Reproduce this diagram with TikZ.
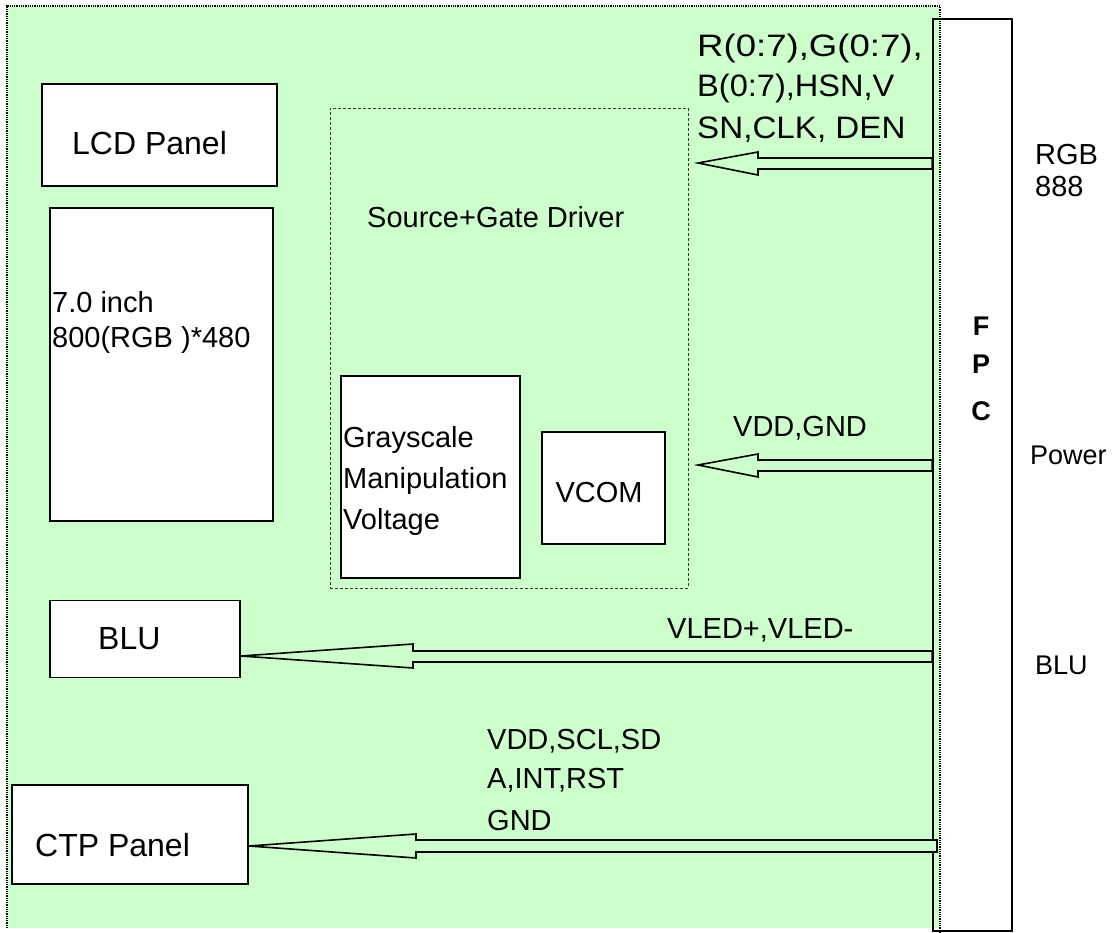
\documentclass[tikz,border=0pt]{standalone}
\usepackage{fontspec}
\setmainfont{Liberation Sans}
\definecolor{bggreen}{HTML}{CCFFCC}
\begin{document}
\begin{tikzpicture}[x=1pt,y=-1pt,
  box/.style={draw=black,line width=1.5pt,fill=white,inner sep=0pt},
  txt/.style={anchor=west,inner sep=0pt,font=\fontsize{29}{32}\selectfont},
  rgbtxt/.style={anchor=west,inner sep=0pt,font=\fontsize{31}{34}\selectfont},
  bigtxt/.style={anchor=west,inner sep=0pt,font=\fontsize{32}{36}\selectfont},
  arr/.style={draw=black,line width=1.6pt,fill=bggreen,line join=miter}]
\useasboundingbox (0,0) rectangle (1116,933);
% green board
\fill[bggreen] (7,6) rectangle (940,928);
% FPC
\node[draw=black,line width=1.8pt,inner sep=0pt,minimum width=79pt,minimum height=912pt] (fpc) at (972.5,475) {};
\draw[black,line width=1.5pt,dash pattern=on 1pt off 0.8pt] (7,928) -- (7,6) -- (940,6) -- (940,933);
% driver region
\node[draw=black!80,line width=0.8pt,dash pattern=on 3pt off 2pt,inner sep=0pt,minimum width=358pt,minimum height=480pt] (drv) at (509,348) {};
\node[txt] (drvt) at (367,217) {Source+Gate Driver};
% boxes
\node[box,minimum width=235pt,minimum height=102pt] (lcd) at (159.5,135) {};
\node[bigtxt] (lcdt) at (72,143) {LCD Panel};
\node[box,minimum width=223pt,minimum height=313pt] (panel) at (161.5,364.5) {};
\node[txt] (p1) at (52,302) {7.0 inch};
\node[txt] (p2) at (52,340) {800(RGB )*480};
\node[box,minimum width=179pt,minimum height=202pt] (gray) at (430.5,477) {};
\node[txt] (g1) at (343,440) {Grayscale};
\node[txt] (g2) at (343,481) {Manipulation};
\node[txt] (g3) at (343,522) {Voltage};
\node[box,minimum width=123pt,minimum height=112pt] (vcom) at (603.5,488) {};
\node[txt,anchor=center] (vcomt) at (599,493) {VCOM};
\node[box,minimum width=190pt,minimum height=77pt] (blu) at (145,639) {};
\node[bigtxt] (blut) at (98,639) {BLU};
\node[box,minimum width=236pt,minimum height=99pt] (ctp) at (130,834.5) {};
\node[bigtxt] (ctpt) at (35,845) {CTP Panel};
% arrows (open double-line arrows from FPC)
\draw[arr] (698,163) -- (758,152) -- (758,158) -- (fpc.west |- 0,158) -- (fpc.west |- 0,169) -- (758,169) -- (758,175) -- cycle;
\draw[arr] (698,465) -- (758,454) -- (758,460) -- (fpc.west |- 0,460) -- (fpc.west |- 0,471) -- (758,471) -- (758,477) -- cycle;
\draw[arr] (blu.east |- 0,656) -- (413,644) -- (413,651) -- (fpc.west |- 0,651) -- (fpc.west |- 0,662) -- (413,662) -- (413,668) -- cycle;
\draw[arr] (ctp.east |- 0,846) -- (416,834) -- (416,840) -- (937,840) -- (937,852) -- (416,852) -- (416,858) -- cycle;
% arrow labels
\node[rgbtxt] (l1) at (697,48) {\scalebox{1.18}[1]{R(0:7),G(0:7),}};
\node[rgbtxt] (l2) at (697,88) {\scalebox{1.05}[1]{B(0:7),HSN,V}};
\node[rgbtxt] (l3) at (697,130) {\scalebox{1.07}[1]{SN,CLK, DEN}};
\node[txt] (l4) at (733,428) {VDD,GND};
\node[txt] (l5) at (667,630) {VLED+,VLED-};
\node[txt] (l6) at (487,741) {VDD,SCL,SD};
\node[txt] (l7) at (487,780) {A,INT,RST};
\node[txt] (l8) at (487,821) {GND};
% FPC letters
\node[txt,anchor=center,font=\fontsize{27}{30}\selectfont\bfseries] (f1) at (981,326) {F};
\node[txt,anchor=center,font=\fontsize{27}{30}\selectfont\bfseries] (f2) at (981,364) {P};
\node[txt,anchor=center,font=\fontsize{27}{30}\selectfont\bfseries] (f3) at (981,411) {C};
% right labels
\node[txt] (r1) at (1035,155) {RGB};
\node[txt] (r2) at (1035,187) {888};
\node[txt,font=\fontsize{27}{30}\selectfont] (r3) at (1030,455) {Power};
\node[txt,font=\fontsize{27}{30}\selectfont] (r4) at (1035,665) {BLU};
\end{tikzpicture}
\end{document}
